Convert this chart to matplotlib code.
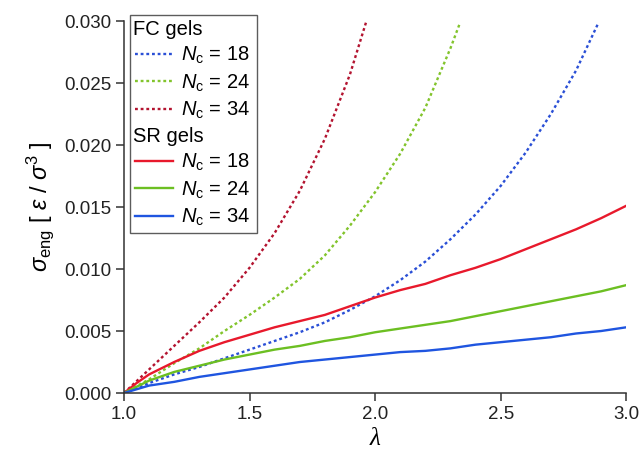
import numpy as np
import matplotlib
matplotlib.use("Agg")
import matplotlib.pyplot as plt
from matplotlib.lines import Line2D

plt.rcParams["font.family"] = ["Liberation Sans", "DejaVu Sans"]
plt.rcParams["mathtext.fontset"] = "custom"
plt.rcParams["mathtext.rm"] = "Liberation Sans"
plt.rcParams["mathtext.it"] = "Liberation Sans:italic"
plt.rcParams["mathtext.bf"] = "Liberation Sans:bold"

# FC gels (dotted)
lam_fc18 = [1.0, 1.1, 1.2, 1.3, 1.4, 1.5, 1.6, 1.7, 1.8, 1.9, 2.0, 2.1, 2.2, 2.3,
            2.4, 2.5, 2.6, 2.7, 2.8, 2.888]
sig_fc18 = [0.0, 0.0008, 0.0015, 0.0021, 0.0028, 0.0035, 0.0042, 0.0049, 0.0057,
            0.0067, 0.0078, 0.0091, 0.0106, 0.0124, 0.0144, 0.0167, 0.0194, 0.0225,
            0.0260, 0.0298]
lam_fc24 = [1.0, 1.1, 1.2, 1.3, 1.4, 1.5, 1.6, 1.7, 1.8, 1.9, 2.0, 2.1, 2.2, 2.3, 2.339]
sig_fc24 = [0.0, 0.0011, 0.0024, 0.0036, 0.0050, 0.0063, 0.0077, 0.0092, 0.0111,
            0.0135, 0.0162, 0.0193, 0.0230, 0.0278, 0.0299]
lam_fc34 = [1.0, 1.1, 1.2, 1.3, 1.4, 1.5, 1.6, 1.7, 1.8, 1.9, 1.964]
sig_fc34 = [0.0, 0.0019, 0.0038, 0.0057, 0.0077, 0.0101, 0.0129, 0.0163, 0.0205,
            0.0257, 0.0299]

# SR gels (solid)
lam_sr = [1.0, 1.05, 1.1, 1.2, 1.3, 1.4, 1.5, 1.6, 1.7, 1.8, 1.9, 2.0, 2.1, 2.2,
          2.3, 2.4, 2.5, 2.6, 2.7, 2.8, 2.9, 3.0]
sig_sr18 = [0.0, 0.0008, 0.0015, 0.0025, 0.0034, 0.0041, 0.0047, 0.0053, 0.0058,
            0.0063, 0.0070, 0.0077, 0.0083, 0.0088, 0.0095, 0.0101, 0.0108, 0.0116,
            0.0124, 0.0132, 0.0141, 0.0151]
sig_sr24 = [0.0, 0.0005, 0.0010, 0.0017, 0.0022, 0.0027, 0.0031, 0.0035, 0.0038,
            0.0042, 0.0045, 0.0049, 0.0052, 0.0055, 0.0058, 0.0062, 0.0066, 0.0070,
            0.0074, 0.0078, 0.0082, 0.0087]
sig_sr34 = [0.0, 0.0003, 0.0006, 0.0009, 0.0013, 0.0016, 0.0019, 0.0022, 0.0025,
            0.0027, 0.0029, 0.0031, 0.0033, 0.0034, 0.0036, 0.0039, 0.0041, 0.0043,
            0.0045, 0.0048, 0.0050, 0.0053]

fig = plt.figure(figsize=(6.39, 4.57), dpi=100)
ax = fig.add_axes([0.194, 0.140, 0.786, 0.814])

dots = (0, (1.2, 1.2))
lw = 1.7
l_fc18, = ax.plot(lam_fc18, sig_fc18, color="#2a4fd6", lw=lw, ls=dots)
l_fc24, = ax.plot(lam_fc24, sig_fc24, color="#82c42c", lw=lw, ls=dots)
l_fc34, = ax.plot(lam_fc34, sig_fc34, color="#b3132f", lw=lw, ls=dots)
l_sr18, = ax.plot(lam_sr, sig_sr18, color="#e8192c", lw=lw)
l_sr24, = ax.plot(lam_sr, sig_sr24, color="#6cbf22", lw=lw)
l_sr34, = ax.plot(lam_sr, sig_sr34, color="#1f55e0", lw=lw)

ax.set_xlim(1.0, 3.0)
ax.set_ylim(0.0, 0.030)
ax.set_xticks([1.0, 1.5, 2.0, 2.5, 3.0])
ax.set_yticks([0.0, 0.005, 0.010, 0.015, 0.020, 0.025, 0.030])
ax.xaxis.set_major_formatter(plt.FormatStrFormatter("%.1f"))
ax.yaxis.set_major_formatter(plt.FormatStrFormatter("%.3f"))
for s in ["top", "right"]:
    ax.spines[s].set_visible(False)
for s in ["left", "bottom"]:
    ax.spines[s].set_linewidth(1.1)
    ax.spines[s].set_color("#333333")
ax.tick_params(direction="out", length=6, width=1.1, color="#333333",
               labelsize=13.5, pad=3, labelcolor="#222222")

ax.set_xlabel("λ", fontsize=18, family="Liberation Serif", style="italic", labelpad=4)
ax.set_ylabel(r"$\sigma_{\rm eng}$ [ $\varepsilon$ / $\sigma^{3}$ ]", fontsize=17, labelpad=6)

fs = 14.5
hl, htp = 1.9, 0.4
blank = Line2D([], [], ls="none")
handles = [blank, l_fc18, l_fc24, l_fc34, blank, l_sr18, l_sr24, l_sr34]
labels = ["FC gels", r"$N_{\rm c}$ = 18", r"$N_{\rm c}$ = 24", r"$N_{\rm c}$ = 34",
          "SR gels", r"$N_{\rm c}$ = 18", r"$N_{\rm c}$ = 24", r"$N_{\rm c}$ = 34"]
leg = ax.legend(handles, labels, loc="upper left", bbox_to_anchor=(130 / 639, 1 - 15 / 457),
                bbox_transform=fig.transFigure, borderaxespad=0, fontsize=fs,
                handlelength=hl, handletextpad=htp, labelspacing=0.3,
                borderpad=0.25, fancybox=False, frameon=True)
leg.get_frame().set_edgecolor("#333333")
leg.get_frame().set_linewidth(1.0)
fsize_px = fs * 100 / 72
shift = (hl + htp) * fsize_px + 2
for i in (0, 4):
    leg.get_texts()[i].set_x(-shift)

fig.savefig("out.png", dpi=100)
